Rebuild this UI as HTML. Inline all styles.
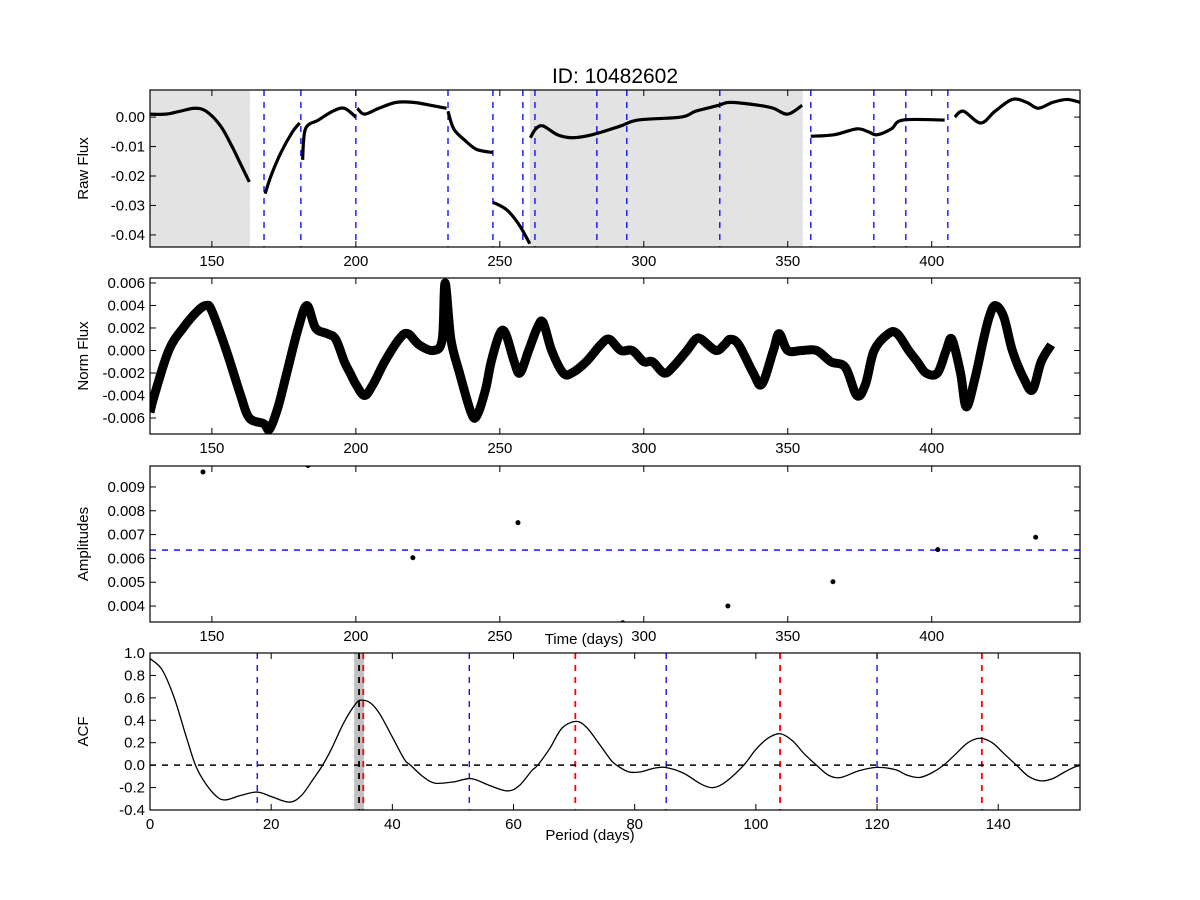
<!DOCTYPE html>
<html><head><meta charset="utf-8"><style>
body{margin:0;background:#fff}
svg{display:block;font-family:"Liberation Sans","DejaVu Sans",sans-serif}
</style></head><body>
<svg id="fig" width="1200" height="900" xmlns="http://www.w3.org/2000/svg">
<text x="615" y="83" font-size="21" text-anchor="middle">ID: 10482602</text>
</svg>
<script>
// ---------- data ----------
const rawSeg1=[[128.5,0.001],[134,0.001],[139,0.002],[144,0.003],[148,0.002],[153,-0.003],[157,-0.010],[160,-0.016],[163,-0.022]];
const rawSeg2=[[168.5,-0.026],[170.5,-0.020],[174,-0.012],[178,-0.005],[180.5,-0.002]];
const rawSeg3=[[181.5,-0.0145],[182.5,-0.004],[187,-0.001],[192,0.002],[196,0.003],[200,0.0]];
const rawSeg4=[[200.5,0.003],[203,0.001],[208,0.003],[214,0.005],[220,0.005],[226,0.004],[231.5,0.003]];
const rawSeg5=[[232,0.002],[234,-0.004],[238,-0.008],[242,-0.011],[247.5,-0.012]];
const rawSeg6=[[247.6,-0.029],[250,-0.030],[253,-0.032],[257,-0.037],[260.4,-0.043]];
const rawSeg7=[[260.6,-0.007],[262.5,-0.004],[265,-0.003],[270,-0.006],[275,-0.007],[282,-0.006],[292,-0.003],[298,-0.001],[313,0.0],[318,0.002],[326,0.004],[330,0.005],[340,0.004],[345,0.003],[350,0.001],[355,0.004]];
const rawSeg8=[[358,-0.0065],[366,-0.006],[374,-0.004],[378,-0.005],[381,-0.006],[386,-0.004],[390,-0.001],[404.5,-0.001]];
const rawSeg9=[[408,0.0],[411,0.002],[417,-0.002],[422,0.002],[428,0.006],[433,0.005],[437,0.003],[442,0.005],[447,0.006],[451.5,0.005]];
const rawSegments=[rawSeg1,rawSeg2,rawSeg3,rawSeg4,rawSeg5,rawSeg6,rawSeg7,rawSeg8,rawSeg9];
const shadeRegions=[[128.5,163.2],[260.4,355.2]];
const quarterLines=[168.1,180.9,200,232,247.6,258,262.2,283.7,294.1,326.4,358,379.9,391,405.6];
const normDays=[128.5,130,135,140,145,148,150,155,160,163,168,170,173,176,180,183,186,190,193,196,198,200,203,206,210,215,218,222,227,230,231,233,236,240,242,245,247,250,252,255,257,260,263,265,268,272,275,280,285,288,292,296,300,303,307,310,315,318,320,325,328,330,333,338,341,345,347,350,355,360,365,370,374,377,380,385,388,392,395,398,402,405,407,410,412,415,418,420,422,425,428,432,435,438,441.5];
const normVals=[-5.5,-4,0,2,3.5,4,3.5,0,-4,-6,-6.5,-7,-5,-2,2,4,2,1.5,1,-1,-2,-3,-4,-3,-1,1,1.5,0.5,0,1,6,1,-2,-5.5,-5.8,-3.5,-1,1.5,1.5,-1,-2,0,2,2.5,0,-2,-2,-1,0.5,1,0,0,-1,-1,-2,-1.5,0,1,1,0,0.5,1,0.5,-2,-3,0,1.5,0,0,0,-1,-1.5,-4,-3,0,1.5,1.5,0,-1,-2,-2,0,1,-2,-5,-2.5,1,3,4,3,0,-2.5,-3.5,-1,0.5];
const ampDays=[146.9,183.4,219.8,256.3,292.7,329.2,365.7,402.1,436.1];
const ampVals=[0.00963,0.0099,0.00603,0.0075,0.0033,0.0040,0.00502,0.00637,0.00689];
const ampMedian=0.00635;
const acfLags=[0,2,4,6,7.5,9,11,12.5,15,17.7,20,23,25,27,28.5,30,32,34,35,36.5,38,40,42,43,45,47,50,53,56,59,61,63,64,66,68,70.3,72,74,76,77,79,81,83,85,88,91,93,95,98,100,102,104,106,108,110,112,114,117,120,123,125,127,129,131,133,135,137,139,141,143,145,147,149,151,153,155];
const acfVals=[0.95,0.85,0.6,0.25,0,-0.15,-0.28,-0.31,-0.27,-0.24,-0.28,-0.33,-0.27,-0.12,0,0.15,0.38,0.55,0.58,0.55,0.45,0.25,0.05,0,-0.1,-0.16,-0.15,-0.12,-0.18,-0.23,-0.18,-0.05,0,0.15,0.33,0.39,0.34,0.2,0.05,0,-0.06,-0.06,-0.03,-0.02,-0.07,-0.17,-0.2,-0.15,0,0.14,0.24,0.28,0.22,0.1,0,-0.09,-0.11,-0.05,-0.02,-0.04,-0.09,-0.11,-0.07,0,0.1,0.2,0.24,0.2,0.1,0,-0.1,-0.14,-0.12,-0.06,-0.01,0];
const acfBlueLines=[17.7,52.7,85.2,120.0];
const acfRedLines=[35.2,70.2,104.0,137.3];
const acfPeriod=34.5, acfBand=[33.7,35.3];
const timeTicks=[150,200,250,300,350,400];
const rawTicks=[0,-0.01,-0.02,-0.03,-0.04];
const normTicks=[0.006,0.004,0.002,0,-0.002,-0.004,-0.006];
const ampTicks=[0.009,0.008,0.007,0.006,0.005,0.004];
const acfXTicks=[0,20,40,60,80,100,120,140];
const acfYTicks=[1.0,0.8,0.6,0.4,0.2,0.0,-0.2,-0.4];

// ---------- helpers ----------
const NS="http://www.w3.org/2000/svg", fig=document.getElementById('fig');
function el(tag,attrs,parent){const e=document.createElementNS(NS,tag);for(const k in attrs)e.setAttribute(k,attrs[k]);(parent||fig).appendChild(e);return e;}
const L=150,R=1080;
function panel(name,top,bot,x0,x1,y0,y1){
  const g=el('g',{});
  
  
  const cid='clip-'+name;
  const cp=el('clipPath',{id:cid},g);el('rect',{x:L,y:top,width:R-L,height:bot-top},cp);
  const plot=el('g',{'clip-path':'url(#'+cid+')'},g);
  const sx=v=>L+(v-x0)/(x1-x0)*(R-L), sy=v=>bot-(v-y0)/(y1-y0)*(bot-top);
  return {g,plot,sx,sy,top,bot};
}
function frame(P,xt,xfmt,yt,yfmt){
  for(const t of xt){const x=P.sx(t);
    el('line',{x1:x,y1:P.bot,x2:x,y2:P.bot-6,stroke:'#000'},P.g);el('line',{x1:x,y1:P.top,x2:x,y2:P.top+6,stroke:'#000'},P.g);
    const tx=el('text',{x:x,y:P.bot+19,'font-size':15,'text-anchor':'middle'},P.g);tx.textContent=xfmt(t);
    
    }
  for(const t of yt){const y=P.sy(t);
    el('line',{x1:L,y1:y,x2:L+6,y2:y,stroke:'#000'},P.g);el('line',{x1:R,y1:y,x2:R-6,y2:y,stroke:'#000'},P.g);
    const tx=el('text',{x:L-5,y:y+5,'font-size':15,'text-anchor':'end'},P.g);tx.textContent=yfmt(t);
    
    }
  el('rect',{x:L,y:P.top,width:R-L,height:P.bot-P.top,fill:'none',stroke:'#000','stroke-width':1.2},P.g);
}
function ylabel(P,text,name){const cy=(P.top+P.bot)/2;const t=el('text',{x:88,y:cy,'font-size':15,'text-anchor':'middle',transform:`rotate(-90 88 ${cy})`},P.g);t.textContent=text;
  
  }
function vline(P,x,color,w,name){const l=el('line',{x1:P.sx(x),x2:P.sx(x),y1:P.top,y2:P.bot,stroke:color,'stroke-width':w,'stroke-dasharray':'6,6'},P.plot);
  
  }
function smoothPath(pts){let d='M'+pts[0][0]+','+pts[0][1];
  for(let i=0;i<pts.length-1;i++){const p0=pts[Math.max(0,i-1)],p1=pts[i],p2=pts[i+1],p3=pts[Math.min(pts.length-1,i+2)];
    d+=` C${p1[0]+(p2[0]-p0[0])/6},${p1[1]+(p2[1]-p0[1])/6} ${p2[0]-(p3[0]-p1[0])/6},${p2[1]-(p3[1]-p1[1])/6} ${p2[0]},${p2[1]}`;}
  return d;}
const f2=v=>v.toFixed(2), f3=v=>v.toFixed(3), f0=v=>String(v), f1=v=>v.toFixed(1);

// ---------- panel 1: raw flux ----------
const P1=panel('raw-flux-panel',90,247,128.5,451.5,-0.0441,0.0092);
for(const r of shadeRegions){const s=el('rect',{x:P1.sx(r[0]),y:P1.top,width:P1.sx(r[1])-P1.sx(r[0]),height:P1.bot-P1.top,fill:'#e3e3e3'},P1.plot);
  
  }
for(const q of quarterLines)vline(P1,q,'#0000ff',1.3,'quarter-boundary-line');
for(const seg of rawSegments){const p=el('path',{d:smoothPath(seg.map(v=>[P1.sx(v[0]),P1.sy(v[1])])),fill:'none',stroke:'#000','stroke-width':3.2},P1.plot);
  
  }
frame(P1,timeTicks,f0,rawTicks,f2);ylabel(P1,'Raw Flux','raw-flux-axis-title');

// ---------- panel 2: norm flux ----------
const P2=panel('norm-flux-panel',278,434,128.5,451.5,-0.00742,0.00644);
{const pts=normDays.map((d,i)=>[P2.sx(d),P2.sy(normVals[i]*1e-3)]);
 const p=el('path',{d:smoothPath(pts),fill:'none',stroke:'#000','stroke-width':9,'stroke-linejoin':'round'},P2.plot);
 
 }
frame(P2,timeTicks,f0,normTicks,f3);ylabel(P2,'Norm Flux','norm-flux-axis-title');

// ---------- panel 3: amplitudes ----------
const P3=panel('amplitudes-panel',466,622,128.5,451.5,0.00333,0.00988);
{const l=el('line',{x1:L,x2:R,y1:P3.sy(ampMedian),y2:P3.sy(ampMedian),stroke:'#0000ff','stroke-width':1.3,'stroke-dasharray':'6,6'},P3.plot);
 
 }
ampDays.forEach((d,i)=>{const c=el('circle',{cx:P3.sx(d),cy:P3.sy(ampVals[i]),r:2.5,fill:'#000'},P3.plot);
  
  });
frame(P3,timeTicks,f0,ampTicks,f3);ylabel(P3,'Amplitudes','amplitudes-axis-title');
{const t=el('text',{x:584,y:644,'font-size':15,'text-anchor':'middle'});t.textContent='Time (days)';
 
 }

// ---------- panel 4: ACF ----------
const P4=panel('acf-panel',653,810,0,153.5,-0.4,1.0);
{const b=el('rect',{x:P4.sx(acfBand[0]),y:P4.top,width:P4.sx(acfBand[1])-P4.sx(acfBand[0]),height:P4.bot-P4.top,fill:'#c0c0c0'},P4.plot);
 
 }
for(const v of acfBlueLines)vline(P4,v,'#0000ff',1.3,'half-period-line');
for(const v of acfRedLines)vline(P4,v,'#ff0000',1.8,'period-multiple-line');
vline(P4,acfPeriod,'#000',1.8,'period-line');
{const l=el('line',{x1:L,x2:R,y1:P4.sy(0),y2:P4.sy(0),stroke:'#000','stroke-width':1.5,'stroke-dasharray':'6,6'},P4.plot);
 
 }
{const p=el('path',{d:smoothPath(acfLags.map((d,i)=>[P4.sx(d),P4.sy(acfVals[i])])),fill:'none',stroke:'#000','stroke-width':1.3},P4.plot);
 
 }
frame(P4,acfXTicks,f0,acfYTicks,f1);ylabel(P4,'ACF','acf-axis-title');
{const t=el('text',{x:590,y:840,'font-size':15,'text-anchor':'middle'});t.textContent='Period (days)';
 
 }
</script>
</body></html>
